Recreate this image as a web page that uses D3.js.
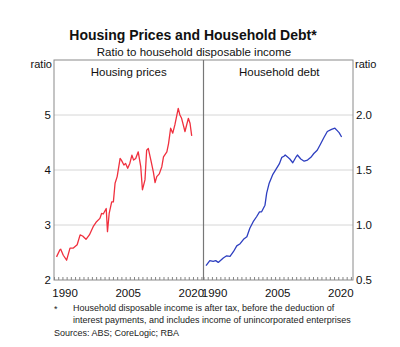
<!DOCTYPE html>
<html><head><meta charset="utf-8">
<script src="https://cdn.jsdelivr.net/npm/d3@7"></script>
<style>body{margin:0;background:#fff}svg{display:block;font-family:"Liberation Sans",Arial,sans-serif}</style>
</head><body><svg id="c" width="400" height="347"></svg>
<script>
// Housing prices to disposable income [year, ratio]
const housingYears = [1988.6,1989.4,1989.6,1990.2,1991.0,1991.8,1992.6,1993.5,1994.2,1994.8,1995.6,1996.4,1997.3,1998.1,1998.9,1999.3,1999.7,2000.4,2000.7,2001.1,2001.7,2002.1,2002.5,2003.0,2003.7,2004.0,2004.6,2005.0,2005.5,2006.0,2006.5,2006.9,2007.4,2008.0,2008.6,2009.0,2009.6,2010.0,2010.4,2011.0,2011.6,2012.0,2012.4,2013.0,2013.6,2014.0,2014.8,2015.2,2015.7,2016.2,2016.7,2017.5,2017.9,2018.3,2019.1,2019.9,2020.3,2020.7];
const housingValues = [2.42,2.55,2.56,2.45,2.36,2.58,2.58,2.64,2.82,2.80,2.74,2.82,2.97,3.06,3.12,3.21,3.20,3.30,2.88,3.21,3.42,3.42,3.76,3.88,4.21,4.18,4.09,4.12,4.03,4.12,4.27,4.18,4.21,4.33,4.06,3.64,3.82,4.36,4.39,4.18,3.96,3.77,3.88,3.93,4.06,4.24,4.33,4.48,4.76,4.67,4.82,5.12,5.00,4.94,4.70,4.94,4.85,4.62];
// Household debt to disposable income [year, ratio]
const debtYears = [1988.6,1989.5,1990.3,1990.9,1991.5,1992.7,1993.5,1994.3,1995.1,1995.9,1996.7,1997.5,1998.3,1999.0,1999.8,2000.6,2001.3,2001.8,2002.6,2003.0,2003.6,2004.4,2005.2,2006.0,2006.6,2007.1,2007.4,2007.9,2008.5,2009.2,2010.0,2010.3,2011.1,2011.9,2012.7,2013.5,2014.2,2015.0,2015.8,2016.6,2017.4,2018.4,2019.2,2019.7,2020.2,2020.8];
const debtValues = [0.63,0.676,0.67,0.676,0.66,0.70,0.72,0.715,0.757,0.81,0.83,0.87,0.894,0.97,1.03,1.075,1.12,1.12,1.18,1.29,1.38,1.455,1.505,1.555,1.615,1.625,1.636,1.62,1.60,1.566,1.62,1.636,1.60,1.58,1.59,1.615,1.65,1.68,1.736,1.795,1.85,1.87,1.88,1.86,1.84,1.80];
const leftTicks = [2,3,4,5];
const rightTicks = [0.5,1.0,1.5,2.0];
const yearLabels = [1990,2005,2020];
const title = "Housing Prices and Household Debt*";
const subtitle = "Ratio to household disposable income";
const panelTitles = ["Housing prices","Household debt"];

const svg = d3.select("#c");
const T = 60, B = 280, L = 54, M = 203.5, R = 353;
const yL = d3.scaleLinear().domain([2,6]).range([B,T]);
const yR = d3.scaleLinear().domain([0.5,2.5]).range([B,T]);
const x1 = d3.scaleLinear().domain([1988,2023.5]).range([L,M]);
const x2 = d3.scaleLinear().domain([1988,2023.5]).range([M,R]);
const FF = "Liberation Sans, Arial, sans-serif";

svg.append("text").attr("x",193).attr("y",40).attr("text-anchor","middle")
  .attr("font-size",14).attr("font-weight","bold").attr("fill","#111").text(title);
svg.append("text").attr("x",194).attr("y",56).attr("text-anchor","middle")
  .attr("font-size",11.5).attr("fill","#111").text(subtitle);

// gridlines
svg.append("g").selectAll("line").data(leftTicks.slice(1)).join("line")
  .attr("x1",L).attr("x2",R).attr("y1",d=>yL(d)).attr("y2",d=>yL(d))
  .attr("stroke","#d6d6d6").attr("stroke-width",1);

// year minor ticks
const years = d3.range(1988,2024);
[x1,x2].forEach(x=>{
  svg.append("g").attr("transform",`translate(0,${B})`)
    .call(d3.axisBottom(x).tickValues(years).tickSize(-3).tickFormat(""))
    .call(a=>a.select(".domain").remove())
    .call(a=>a.selectAll("line").attr("stroke","#666").attr("stroke-width",0.8));
  svg.append("g").attr("transform",`translate(0,${B})`)
    .call(d3.axisBottom(x).tickValues(yearLabels.map(y=>y+0.5)).tickSize(0).tickPadding(9).tickFormat(d=>Math.floor(d)))
    .call(a=>a.select(".domain").remove())
    .call(a=>a.selectAll("text").attr("font-size",11.5).attr("fill","#111").attr("font-family",FF));
});

// y axes
svg.append("g").attr("transform",`translate(${L},0)`)
  .call(d3.axisLeft(yL).tickValues(leftTicks).tickSize(0).tickPadding(3).tickFormat(d3.format("d")))
  .call(a=>a.select(".domain").remove())
  .call(a=>a.selectAll("text").attr("font-size",11.5).attr("fill","#111").attr("font-family",FF));
svg.append("g").attr("transform",`translate(${R},0)`)
  .call(d3.axisRight(yR).tickValues(rightTicks).tickSize(0).tickPadding(3).tickFormat(d3.format(".1f")))
  .call(a=>a.select(".domain").remove())
  .call(a=>a.selectAll("text").attr("font-size",11.5).attr("fill","#111").attr("font-family",FF));

svg.append("text").attr("x",L-2).attr("y",68).attr("text-anchor","end").attr("font-size",11).attr("fill","#111").text("ratio");
svg.append("text").attr("x",R+2).attr("y",68).attr("text-anchor","start").attr("font-size",11).attr("fill","#111").text("ratio");

// lines
const lineH = d3.line().x((d,i)=>x1(housingYears[i])).y(d=>yL(d));
const lineD = d3.line().x((d,i)=>x2(debtYears[i])).y(d=>yR(d));
svg.append("path").datum(housingValues).attr("d",lineH).attr("fill","none")
  .attr("stroke","#f0303e").attr("stroke-width",1.3).attr("stroke-linejoin","round");
svg.append("path").datum(debtValues).attr("d",lineD).attr("fill","none")
  .attr("stroke","#2e3fc0").attr("stroke-width",1.3).attr("stroke-linejoin","round");

// frame
svg.append("rect").attr("x",L).attr("y",T).attr("width",R-L).attr("height",B-T)
  .attr("fill","none").attr("stroke","#8a8a8a").attr("stroke-width",1);
svg.append("line").attr("x1",M).attr("x2",M).attr("y1",T).attr("y2",B)
  .attr("stroke","#777").attr("stroke-width",1.2);

// panel titles
svg.append("text").attr("x",(L+M)/2).attr("y",76).attr("text-anchor","middle").attr("font-size",11.5).attr("fill","#111").text(panelTitles[0]);
svg.append("text").attr("x",(M+R)/2+1).attr("y",76).attr("text-anchor","middle").attr("font-size",11.5).attr("fill","#111").text(panelTitles[1]);

// footnotes
const fn = svg.append("g").attr("font-size",9).attr("fill","#222");
fn.append("text").attr("x",54).attr("y",312).text("*");
fn.append("text").attr("x",73).attr("y",311).text("Household disposable income is after tax, before the deduction of");
fn.append("text").attr("x",73).attr("y",323).text("interest payments, and includes income of unincorporated enterprises");
fn.append("text").attr("x",54).attr("y",336).text("Sources: ABS; CoreLogic; RBA");
</script></body></html>
